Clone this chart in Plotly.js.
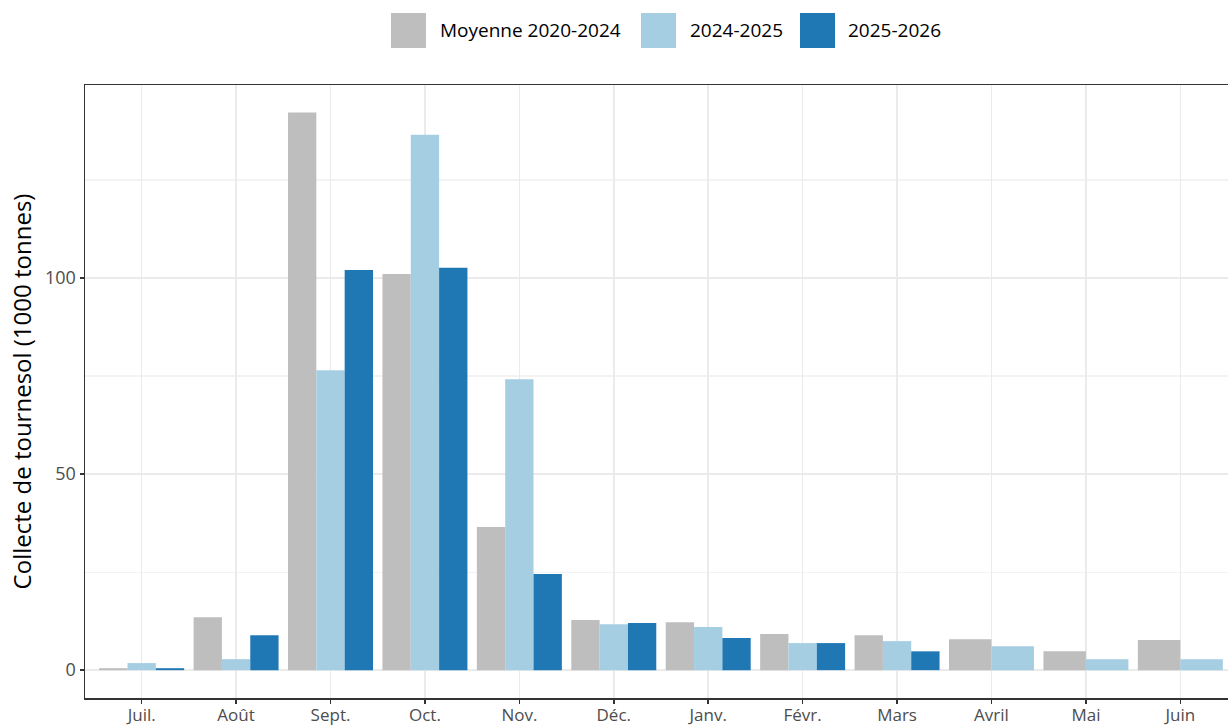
<!DOCTYPE html>
<html>
<head>
<meta charset="utf-8">
<script src="https://cdn.plot.ly/plotly-3.0.1.min.js"></script>
<style>
html,body{margin:0;padding:0;overflow:hidden;background:#fff;}
#chart{width:1240px;height:725px;}
</style>
</head>
<body>
<div id="chart"></div>
<script>
const months = ["Juil.", "Août", "Sept.", "Oct.", "Nov.", "Déc.", "Janv.", "Févr.", "Mars", "Avril", "Mai", "Juin"];
const seriesNames = ["Moyenne 2020-2024", "2024-2025", "2025-2026"];
const moyenne = [0.5, 13.5, 142.2, 101.0, 36.5, 12.8, 12.2, 9.2, 8.9, 7.9, 4.8, 7.7];
const s2024 = [1.8, 2.8, 76.5, 136.5, 74.2, 11.7, 11.0, 6.9, 7.4, 6.1, 2.8, 2.8];
const s2025 = [0.5, 8.9, 102.0, 102.6, 24.5, 12.0, 8.2, 6.9, 4.8, null, null, null];
const colors = ["#BEBEBE", "#A6CEE3", "#1F78B4"];
const yTicks = [0, 50, 100];
const yMinorTicks = [25, 75, 125];

const allSeries = [moyenne, s2024, s2025];
const groupWidth = 0.9;
const traces = allSeries.map((vals, si) => {
  const widths = [], offsets = [];
  months.forEach((m, mi) => {
    const present = allSeries.map(s => s[mi] !== null && s[mi] !== undefined);
    const k = present.filter(Boolean).length;
    const idx = present.slice(0, si).filter(Boolean).length;
    const w = groupWidth / k;
    widths.push(w);
    offsets.push(-groupWidth / 2 + idx * w);
  });
  return {
    type: "bar",
    name: seriesNames[si],
    x: months,
    y: vals,
    width: widths,
    offset: offsets,
    marker: {color: colors[si], line: {width: 0}},
    showlegend: false,
    hoverinfo: "x+y+name"
  };
});

// Custom legend with large square keys (ggplot style), positioned in paper coordinates
const W = 1240, H = 725, ML = 85, MR = 3, MT = 85, MB = 27;
const pw = W - ML - MR, ph = H - MT - MB;
const px2x = p => (p - ML) / pw;
const py2y = p => (H - MB - p) / ph;
const legendKeys = [391, 641, 800];
const legendTexts = [440, 690, 848];
const shapes = [], annotations = [];
seriesNames.forEach((n, i) => {
  shapes.push({
    type: "rect", xref: "paper", yref: "paper",
    x0: px2x(legendKeys[i]), x1: px2x(legendKeys[i] + 35),
    y0: py2y(48), y1: py2y(13),
    fillcolor: colors[i], line: {width: 0}
  });
  annotations.push({
    xref: "paper", yref: "paper",
    x: px2x(legendTexts[i] - 2), y: py2y(30.5),
    xanchor: "left", yanchor: "middle",
    text: n, showarrow: false,
    font: {size: 19, color: "#000"}
  });
});

const layout = {
  width: W,
  height: H,
  margin: {l: ML, r: MR, t: MT, b: MB},
  paper_bgcolor: "#fff",
  plot_bgcolor: "#fff",
  barmode: "overlay",
  font: {family: "'Open Sans', 'Noto Sans', sans-serif", color: "#000"},
  showlegend: false,
  shapes: shapes,
  annotations: annotations,
  xaxis: {
    type: "category",
    range: [-0.6, 11.6],
    showgrid: true,
    gridcolor: "#EBEBEB",
    gridwidth: 1.5,
    ticks: "outside",
    ticklen: 4,
    tickcolor: "#333333",
    tickwidth: 1.5,
    tickfont: {size: 17, color: "#4D4D4D"},
    ticklabelstandoff: -3,
    showline: true,
    linecolor: "#333333",
    linewidth: 1.5,
    mirror: true,
    zeroline: false,
    automargin: false
  },
  yaxis: {
    range: [-7.1, 149.2],
    tickvals: yTicks,
    ticktext: yTicks.map(String),
    showgrid: true,
    gridcolor: "#EBEBEB",
    gridwidth: 1.5,
    minor: {tickvals: yMinorTicks, showgrid: true, gridcolor: "#F3F3F3", gridwidth: 1.2, ticks: ""},
    ticks: "outside",
    ticklen: 4,
    tickcolor: "#333333",
    tickwidth: 1.5,
    tickfont: {size: 18, color: "#4D4D4D"},
    showline: true,
    linecolor: "#333333",
    linewidth: 1.5,
    mirror: true,
    zeroline: false,
    automargin: false,
    title: {text: "Collecte de tournesol (1000 tonnes)", font: {size: 24, color: "#000"}, standoff: 6}
  }
};

Plotly.newPlot("chart", traces, layout, {displayModeBar: false, staticPlot: true});
</script>
</body>
</html>
